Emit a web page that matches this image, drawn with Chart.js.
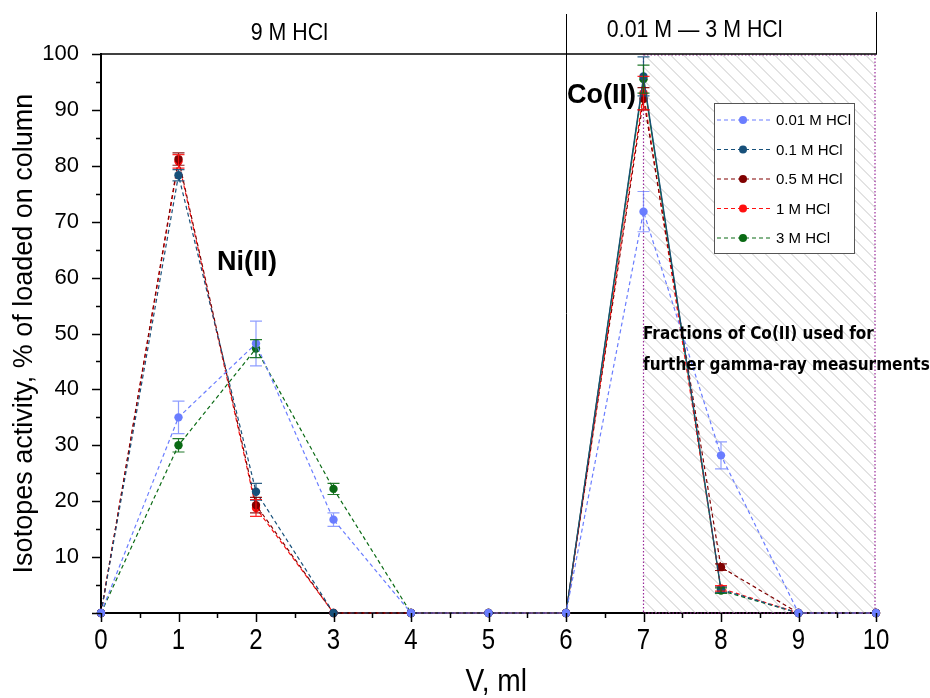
<!DOCTYPE html>
<html>
<head>
<meta charset="utf-8">
<script src="https://cdn.jsdelivr.net/npm/chart.js@4.4.1/dist/chart.umd.min.js"></script>
<style>
  html, body { margin: 0; padding: 0; background: #fff; }
  #wrap { width: 930px; height: 698px; }
</style>
</head>
<body>
<div id="wrap"><canvas id="myChart" width="930" height="698"></canvas></div>
<script>
// V, ml
const volumes = [0, 1, 2, 3, 4, 5, 6, 7, 8, 9, 10];

const labels = ["0.01 M HCl", "0.1 M HCl", "0.5 M HCl", "1 M HCl", "3 M HCl"];
const colors = ["#6a7dff", "#17507a", "#800000", "#ff1010", "#0a6a14"];

// activity, % of loaded on column
const hcl001 = [0, 35.0, 48.2, 16.7, 0, 0, 0, 71.8, 28.2, 0, 0];
const hcl01  = [0, 78.3, 21.7, 0, 0, 0, 0, 96.0, 4.2, 0, 0];
const hcl05  = [0, 81.2, 19.3, 0, 0, 0, 0, 92.0, 8.2, 0, 0];
const hcl1   = [0, 80.8, 18.8, 0, 0, 0, 0, 93.0, 4.4, 0, 0];
const hcl3   = [0, 30.0, 47.3, 22.2, 0, 0, 0, 95.5, 4.0, 0, 0];

// error bars (+/-)
const hcl001Err = [0, 2.9, 4.0, 1.2, 0, 0, 0, 3.6, 2.4, 0, 0];
const hcl01Err  = [0, 1.0, 1.5, 0, 0, 0, 0, 3.5, 0.5, 0, 0];
const hcl05Err  = [0, 1.1, 1.4, 0, 0, 0, 0, 2.0, 0.6, 0, 0];
const hcl1Err   = [0, 1.2, 1.5, 0, 0, 0, 0, 3.0, 0.5, 0, 0];
const hcl3Err   = [0, 1.2, 1.6, 1.0, 0, 0, 0, 2.5, 0.5, 0, 0];

const yTicks = [10, 20, 30, 40, 50, 60, 70, 80, 90, 100];
const xTicks = [0, 1, 2, 3, 4, 5, 6, 7, 8, 9, 10];

const series = [hcl001, hcl01, hcl05, hcl1, hcl3];
const errors = [hcl001Err, hcl01Err, hcl05Err, hcl1Err, hcl3Err];
const solidAfterSix = [false, true, false, false, true];

const FONT_C = "'DejaVu Sans Condensed', 'Liberation Sans', Arial, sans-serif";
const FONT_N = "'Liberation Sans', Arial, sans-serif";

// draw text squeezed horizontally (narrow face)
function narrowText(ctx, text, px, py, sx) {
  ctx.save();
  ctx.translate(px, py);
  ctx.scale(sx, 1);
  ctx.fillText(text, 0, 0);
  ctx.restore();
}

const decor = {
  id: "decor",
  beforeDatasetsDraw(chart) {
    const { ctx, scales: { x, y } } = chart;
    const l = x.getPixelForValue(7), r = x.getPixelForValue(10);
    const t = y.getPixelForValue(100), b = y.getPixelForValue(0);
    ctx.save();
    ctx.beginPath();
    ctx.rect(l, t, r - l, b - t);
    ctx.clip();
    ctx.beginPath();
    ctx.strokeStyle = "#c6c6c6";
    ctx.lineWidth = 1;
    for (let s = l - (b - t); s < r; s += 13) {
      ctx.moveTo(s, t);
      ctx.lineTo(s + (b - t), b);
    }
    ctx.stroke();
    ctx.restore();

    ctx.save();
    ctx.strokeStyle = "#9a2a9a";
    ctx.lineWidth = 1.2;
    ctx.setLineDash([1.5, 2]);
    ctx.strokeRect(l, t + 1, r - l - 1, b - t - 1);
    ctx.restore();

    // divider at V = 6
    const d = x.getPixelForValue(6);
    ctx.save();
    ctx.strokeStyle = "#000";
    ctx.lineWidth = 1;
    ctx.beginPath();
    ctx.moveTo(d + 0.5, 14);
    ctx.lineTo(d + 0.5, b);
    ctx.moveTo(r + 0.5, 12);
    ctx.lineTo(r + 0.5, t);
    ctx.stroke();
    ctx.lineWidth = 1.5;
    ctx.beginPath();
    ctx.moveTo(x.getPixelForValue(0), t);
    ctx.lineTo(r + 1, t);
    ctx.stroke();
    ctx.restore();
  },
  afterDatasetsDraw(chart) {
    const { ctx, scales: { x, y } } = chart;
    ctx.save();
    chart.data.datasets.forEach((ds, i) => {
      const err = errors[i];
      ctx.strokeStyle = ds.borderColor;
      ctx.globalAlpha = i === 0 ? 0.75 : 0.9;
      ctx.lineWidth = 1.2;
      ds.data.forEach((p, j) => {
        if (!err[j]) return;
        const px = x.getPixelForValue(p.x);
        const y1 = y.getPixelForValue(p.y + err[j]);
        const y2 = y.getPixelForValue(p.y - err[j]);
        ctx.beginPath();
        ctx.moveTo(px, y1); ctx.lineTo(px, y2);
        ctx.moveTo(px - 6, y1); ctx.lineTo(px + 6, y1);
        ctx.moveTo(px - 6, y2); ctx.lineTo(px + 6, y2);
        ctx.stroke();
      });
    });
    ctx.restore();
  },
  afterDraw(chart) {
    const { ctx, scales: { x, y } } = chart;
    const b = y.getPixelForValue(0), l = x.getPixelForValue(0);
    ctx.save();
    ctx.strokeStyle = "#000";
    ctx.lineWidth = 1.5;
    ctx.beginPath();
    for (let v = 0; v <= 100; v += 5) {
      const py = Math.round(y.getPixelForValue(v)) + 0.5;
      ctx.moveTo(l, py);
      ctx.lineTo(l - (v % 10 === 0 ? 9 : 5), py);
    }
    for (let v = 0; v <= 10; v += 0.5) {
      const px = Math.round(x.getPixelForValue(v)) + 0.5;
      ctx.moveTo(px, b);
      ctx.lineTo(px, b + (v % 1 === 0 ? 9 : 5));
    }
    ctx.stroke();

    ctx.fillStyle = "#000";
    ctx.textAlign = "center";
    ctx.textBaseline = "middle";

    // x tick labels and title (narrow face)
    ctx.font = "30px " + FONT_N;
    xTicks.forEach(v => narrowText(ctx, String(v), x.getPixelForValue(v), 641, 0.8));
    ctx.font = "32px " + FONT_N;
    narrowText(ctx, "V, ml", x.getPixelForValue(5.1), 682, 0.88);

    // header labels
    ctx.font = "24px " + FONT_N;
    narrowText(ctx, "9 M HCl", x.getPixelForValue(2.43), 33, 0.89);
    narrowText(ctx, "0.01 M \u2014 3 M HCl", x.getPixelForValue(7.66), 30, 0.89);

    // annotations
    ctx.font = "bold 27px " + FONT_N;
    ctx.textAlign = "left";
    ctx.fillText("Ni(II)", 217, 263);
    ctx.fillText("Co(II)", 567, 96);
    ctx.font = "bold 17px " + FONT_C;
    ctx.fillText("Fractions of Co(II) used for", 643, 335);
    ctx.fillText("further gamma-ray measurments", 643, 366);

    // legend
    const lx = 714, ly = 103, lw = 140, lh = 150;
    ctx.fillStyle = "#fff";
    ctx.fillRect(lx, ly, lw, lh);
    ctx.strokeStyle = "#555";
    ctx.lineWidth = 1;
    ctx.strokeRect(lx + 0.5, ly + 0.5, lw, lh);
    chart.data.datasets.forEach((ds, i) => {
      const cy = 120 + i * 29.5;
      ctx.strokeStyle = ds.borderColor;
      ctx.setLineDash([4, 3]);
      ctx.lineWidth = 1.2;
      ctx.beginPath();
      ctx.moveTo(717, cy); ctx.lineTo(771, cy);
      ctx.stroke();
      ctx.setLineDash([]);
      ctx.fillStyle = ds.borderColor;
      ctx.beginPath();
      ctx.arc(743, cy, 4, 0, Math.PI * 2);
      ctx.fill();
      ctx.fillStyle = "#000";
      ctx.font = "15px " + FONT_N;
      ctx.textAlign = "left";
      ctx.fillText(ds.label, 776, cy + 1);
    });
    ctx.restore();
  }
};

const datasets = series.map((vals, i) => ({
  label: labels[i],
  data: volumes.map((v, j) => ({ x: v, y: vals[j] })),
  borderColor: colors[i],
  backgroundColor: colors[i],
  borderWidth: 1.2,
  borderDash: [4, 3],
  pointRadius: 4.2,
  pointBorderWidth: 0,
  clip: false,
  segment: {
    borderDash: ctx => (solidAfterSix[i] && ctx.p0.parsed.x >= 6 && ctx.p1.parsed.x <= 8) ? [] : [4, 3]
  }
}));

const ctx = document.getElementById("myChart").getContext("2d");
const mychart = new Chart(ctx, {
  type: "line",
  data: { datasets },
  options: {
    responsive: false,
    animation: false,
    layout: { padding: { top: 54, right: 54, left: 0, bottom: 0 } },
    plugins: { legend: { display: false }, tooltip: { enabled: false } },
    scales: {
      x: {
        type: "linear",
        min: 0,
        max: 10,
        afterFit: s => { s.height = 85; },
        afterBuildTicks: s => { s.ticks = xTicks.map(v => ({ value: v })); },
        grid: { display: false },
        border: { display: true, color: "#000", width: 2 },
        ticks: { display: false }
      },
      y: {
        min: 0,
        max: 100,
        afterFit: s => { s.width = 101; },
        afterBuildTicks: s => { s.ticks = yTicks.map(v => ({ value: v })); },
        grid: { display: false },
        border: { display: true, color: "#000", width: 2 },
        ticks: { color: "#000", padding: 14, font: { size: 22, family: FONT_N } },
        title: { display: true, text: "Isotopes activity, % of loaded on column", color: "#000", padding: { top: 8, bottom: 0 }, font: { size: 27, family: FONT_N } }
      }
    }
  },
  plugins: [decor]
});
</script>
</body>
</html>
